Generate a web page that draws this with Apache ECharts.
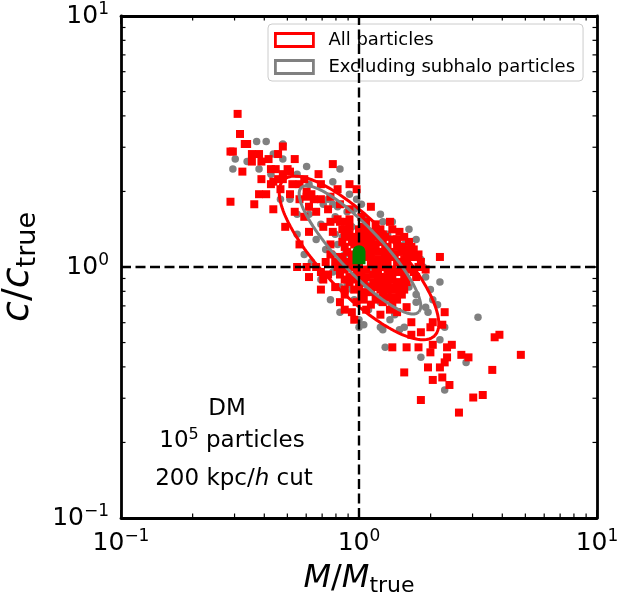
<!DOCTYPE html>
<html><head><meta charset="utf-8">
<script src="https://cdn.jsdelivr.net/npm/echarts@6/dist/echarts.min.js"></script>
<style>html,body{margin:0;padding:0;background:#fff}#c{width:617px;height:599px}</style>
</head><body><div id="c"></div>
<script>
// log10(M/Mtrue), log10(c/ctrue)
const redLog = [
[-0.51,0.61],[-0.50,0.53],[-0.48,0.49],[-0.47,0.49],[-0.54,0.46],[-0.53,0.46],[-0.45,0.45],[-0.42,0.45],[-0.34,0.45],[-0.32,0.48],
[-0.45,0.42],[-0.41,0.42],[-0.38,0.43],[-0.27,0.43],[-0.11,0.41],[-0.49,0.38],[-0.37,0.39],[-0.35,0.39],[-0.30,0.39],[-0.29,0.38],
[-0.17,0.37],[-0.41,0.35],[-0.32,0.35],[-0.34,0.35],[-0.37,0.33],[-0.54,0.26],[-0.42,0.29],[-0.39,0.29],[-0.44,0.25],[-0.36,0.23],
[-0.31,0.16],[-0.25,0.27],[-0.22,0.28],[-0.20,0.29],[-0.09,0.31],[-0.32,0.37],[-0.36,0.34],[-0.04,0.33],[-0.01,0.31],[-0.22,0.30],
[-0.19,0.27],[-0.21,0.24],[-0.29,0.29],[-0.27,0.22],[-0.23,0.20],[-0.18,0.22],[-0.12,0.18],[-0.08,0.18],[-0.04,0.19],[-0.07,0.15],
[-0.15,0.16],[-0.21,0.14],[0.00,0.15],[0.03,0.15],[0.00,0.12],[-0.08,0.25],[-0.04,0.23],[0.05,0.24],[-0.09,0.19],[-0.11,0.14],
[-0.05,0.15],[0.02,0.16],[0.06,0.14],[0.14,0.15],[0.17,0.14],[-0.02,0.12],[-0.07,0.10],[0.05,0.11],[0.09,0.10],[0.12,0.08],
[0.16,0.08],[0.20,0.07],[0.23,0.07],[0.25,0.05],[0.23,0.04],[0.18,0.06],[0.13,0.06],[0.08,0.06],[0.03,0.07],[0.05,0.04],
[-0.05,0.06],[-0.08,0.04],[-0.05,0.02],[0.06,0.02],[0.10,0.02],[0.16,0.02],[0.20,0.02],[-0.09,0.00],[0.03,-0.01],[0.09,0.00],
[0.14,-0.01],[-0.08,-0.03],[-0.01,-0.02],[0.03,-0.04],[0.09,-0.04],[0.16,-0.02],[0.21,-0.01],[-0.04,-0.06],[0.02,-0.06],[0.06,-0.06],
[0.12,-0.06],[0.20,-0.06],[0.03,-0.10],[0.09,-0.09],[0.16,-0.08],[0.17,-0.10],[-0.25,0.09],[-0.12,0.09],[-0.06,0.12],[0.03,0.13],
[-0.26,0.00],[-0.22,0.00],[-0.18,0.00],[-0.21,-0.04],[-0.16,-0.02],[-0.13,-0.03],[-0.07,0.00],[-0.04,-0.04],[0.08,-0.02],[0.10,-0.06],
[-0.15,-0.05],[-0.10,-0.08],[-0.16,-0.09],[-0.08,-0.14],[-0.06,-0.17],[-0.01,-0.14],[0.01,-0.11],[0.05,-0.10],[0.12,-0.12],[0.05,-0.15],
[0.09,-0.19],[-0.03,-0.18],[0.12,-0.09],[0.16,-0.06],[0.18,-0.11],[0.14,-0.12],[0.20,-0.16],[0.16,-0.18],[0.22,-0.22],[0.31,-0.22],
[0.36,-0.18],[0.30,-0.24],[0.26,-0.26],[0.22,-0.27],[0.14,-0.32],[0.20,-0.32],[0.25,-0.32],[0.31,-0.31],[0.37,-0.32],[0.37,-0.36],
[0.30,-0.34],[0.35,-0.23],[0.39,-0.31],[0.43,-0.35],[0.46,-0.36],[0.36,-0.38],[0.34,-0.40],[0.29,-0.40],[0.19,-0.42],[0.31,-0.45],
[0.35,-0.44],[0.38,-0.47],[0.56,-0.41],[0.57,-0.28],[0.59,-0.27],[0.68,-0.35],[0.26,-0.53],[0.48,-0.52],[0.52,-0.51],[0.42,-0.58],
[0.34,0.04],[0.13,0.18],[-0.04,0.16],[-0.02,0.09],[0.01,0.08],[0.07,0.09],[0.11,0.05],[0.15,0.05],[-0.03,0.00],[0.00,0.02],
[0.13,-0.03],[0.18,0.00],[0.07,-0.08],[0.00,-0.08],[-0.06,-0.09],[0.14,-0.15],[0.03,-0.17],[-0.02,-0.21],[-0.06,-0.11],[-0.12,0.05],
[-0.10,0.02],[-0.14,0.02],[0.26,0.02],[0.28,-0.01],[0.24,-0.04],[0.10,0.13],[0.01,0.20],[0.07,0.17],[-0.13,0.23],[-0.16,0.27],
[-0.25,0.33],[-0.23,0.35],[-0.28,0.33],[-0.33,0.31],[-0.16,0.33],[-0.12,0.28],
[0.04,0.09],[0.10,0.10],[-0.03,0.05],[0.07,0.00],[0.12,0.02],[0.19,0.03],[0.01,-0.03],[0.06,-0.03],[0.11,-0.04],[-0.01,0.11],
[0.08,0.13],[0.14,0.11],[0.21,0.10],[0.19,-0.04],[0.13,-0.08],[0.22,0.04],[-0.02,-0.05],[0.04,0.05],[0.10,-0.11],[0.07,-0.13],
[-0.06,0.08],[-0.03,0.10],[0.00,0.09],[0.02,0.11],[0.06,0.12],[0.11,0.12],[0.16,0.11],[0.19,0.12],[-0.07,0.03],[-0.02,0.03],
[0.02,0.04],[0.08,0.03],[0.14,0.04],[0.21,0.05],[0.25,0.00],[-0.06,-0.01],[0.00,-0.01],[0.05,0.01],[0.12,-0.01],[0.18,-0.02],
[0.23,-0.02],[-0.06,-0.05],[0.01,-0.05],[0.08,-0.06],[0.14,-0.05],[0.17,-0.07],[-0.02,-0.09],[0.05,-0.08],[0.11,-0.09],[0.14,-0.09],
[0.19,-0.09],[0.02,-0.13],[0.10,-0.14],[0.16,-0.13],[0.13,-0.17],[-0.04,0.13],[0.09,0.15],[0.03,0.18],[-0.06,0.18],[0.11,0.07],
[0.06,0.07],[0.00,0.05],[0.18,0.08],[0.22,0.08]
];
const grayLog = [
[-0.43,0.50],[-0.52,0.43],[-0.47,0.42],[-0.53,0.39],[-0.32,0.49],[-0.32,0.43],[-0.22,0.40],[-0.08,0.39],[-0.11,0.34],[-0.36,0.45],
[-0.39,0.50],[-0.26,0.37],[-0.04,0.29],[-0.01,0.27],[-0.02,0.23],[-0.15,0.25],[-0.13,0.27],[-0.09,0.24],[-0.26,0.21],[-0.10,0.20],
[-0.05,0.22],[0.03,0.19],[-0.03,0.16],[-0.16,0.17],[-0.26,0.13],[-0.10,0.13],[-0.11,0.25],[0.09,0.21],[0.10,0.18],[0.14,0.18],
[0.21,0.15],[-0.07,0.12],[-0.09,0.09],[-0.11,0.05],[0.26,0.03],[0.27,0.00],[-0.08,-0.08],[-0.03,-0.09],[0.12,-0.09],[0.21,-0.08],
[0.24,-0.11],[-0.05,-0.07],[0.03,-0.07],[-0.08,-0.18],[0.04,-0.17],[0.00,-0.21],[0.09,-0.24],[0.07,-0.12],[0.34,-0.06],[0.28,-0.16],
[0.33,-0.15],[0.36,-0.24],[0.09,-0.14],[0.10,-0.25],[0.02,-0.23],[0.11,-0.32],[0.26,-0.36],[0.18,-0.10],[0.24,-0.14],[0.29,-0.18],
[0.34,-0.29],[0.50,-0.20],[0.45,-0.38],[0.36,-0.49],[0.19,-0.24],[0.28,-0.04],[-0.11,-0.02],[-0.07,-0.01],[-0.37,0.37],[-0.42,0.39],
[-0.29,0.27],[-0.21,0.21],[-0.18,0.11],[-0.14,0.07],[-0.23,0.05],[-0.20,0.02],[-0.12,-0.13],[-0.02,-0.13],[0.15,-0.19],[0.17,-0.25],
[0.13,-0.21],[-0.16,-0.05],[0.05,0.00],[0.15,0.11],[0.19,0.09],[0.01,0.25],[-0.21,0.33],[-0.33,0.27],[0.12,0.13],[0.24,0.11],
[-0.06,0.05],[0.17,0.02],[0.30,-0.09],[0.31,-0.13],[0.01,0.04],[0.00,-0.24]
];
const greenPoint = [1.0, 1.12];
const refM = 1, refC = 1;
const axisMin = 0.1, axisMax = 10;
const tickExponents = ['\u22121', '0', '1'];
const minorTickValues = [0.2,0.3,0.4,0.5,0.6,0.7,0.8,0.9,2,3,4,5,6,7,8,9];
// ellipse parameters in log10 space (centre, semi-axes in dex, angle in degrees)
const redEllipse = {cx: 0.0, cy: 0.036, a: 0.444, b: 0.147, angle: -44};
const grayEllipse = {cx: 0.004, cy: 0.068, a: 0.35, b: 0.09, angle: -45};
const legendNames = ['All particles', 'Excluding subhalo particles'];

const FONT = 'DejaVu Sans';
const toVal = p => [Math.pow(10, p[0]), Math.pow(10, p[1])];
function ellipsePath(e) {
  const pts = [], th = e.angle * Math.PI / 180;
  for (let i = 0; i <= 200; i++) {
    const t = i / 200 * 2 * Math.PI;
    const lx = e.cx + e.a * Math.cos(t) * Math.cos(th) - e.b * Math.sin(t) * Math.sin(th);
    const ly = e.cy + e.a * Math.cos(t) * Math.sin(th) + e.b * Math.sin(t) * Math.cos(th);
    pts.push([Math.pow(10, lx), Math.pow(10, ly)]);
  }
  return pts;
}
const tickRich = {
  b: {fontFamily: FONT, fontSize: 25, lineHeight: 30, color: '#000'},
  s: {fontFamily: FONT, fontSize: 17, lineHeight: 17, verticalAlign: 'top', color: '#000'}
};
const tickFmt = v => '{b|10}{s|' + tickExponents[Math.round(Math.log10(v)) + 1] + '}';
function nameRich(big, small) {
  return {
    i: {fontFamily: FONT, fontSize: big, fontStyle: 'italic', lineHeight: big * 1.2, color: '#000'},
    n: {fontFamily: FONT, fontSize: big, lineHeight: big * 1.2, color: '#000'},
    s: {fontFamily: FONT, fontSize: small, lineHeight: small, verticalAlign: 'bottom', color: '#000'}
  };
}
const lineCommon = {onZero: false, lineStyle: {color: '#000', width: 2.8}};
const tickCommon = {inside: true, length: 8, lineStyle: {color: '#000', width: 1.6}};
function tickLine(x1, y1, x2, y2) {
  return {type: 'line', shape: {x1, y1, x2, y2}, style: {stroke: '#000', lineWidth: 1.2}};
}

const chart = echarts.init(document.getElementById('c'), null, {renderer: 'canvas'});
chart.setOption({
  animation: false,
  backgroundColor: '#fff',
  textStyle: {fontFamily: FONT},
  grid: {left: 121, right: 20, top: 16, bottom: 81, containLabel: false, outerBoundsMode: 'none'},
  xAxis: [
    {type: 'log', logBase: 10, min: axisMin, max: axisMax, position: 'bottom',
     axisLine: lineCommon, axisTick: tickCommon, splitLine: {show: false},
     axisLabel: {margin: 10, formatter: tickFmt, rich: tickRich},
     name: '{i|M}{n|/}{i|M}{s|true}', nameLocation: 'middle', nameGap: 41,
     nameTextStyle: {rich: nameRich(32, 22)}},
    {type: 'log', logBase: 10, min: axisMin, max: axisMax, position: 'top',
     axisLine: lineCommon, axisTick: tickCommon, splitLine: {show: false}, axisLabel: {show: false}}
  ],
  yAxis: [
    {type: 'log', logBase: 10, min: axisMin, max: axisMax, position: 'left',
     axisLine: lineCommon, axisTick: tickCommon, splitLine: {show: false},
     axisLabel: {margin: 12, formatter: tickFmt, rich: tickRich},
     name: '{i|c}{n|/}{i|c}{s|true}', nameLocation: 'middle', nameGap: 68, nameRotate: 90,
     nameTextStyle: {rich: nameRich(38, 27)}},
    {type: 'log', logBase: 10, min: axisMin, max: axisMax, position: 'right',
     axisLine: lineCommon, axisTick: tickCommon, splitLine: {show: false}, axisLabel: {show: false}}
  ],
  legend: {
    left: 268, top: 24, orient: 'vertical', itemWidth: 38, itemHeight: 13, itemGap: 9,
    padding: [7, 8, 5, 6], backgroundColor: 'rgba(255,255,255,0.8)', borderColor: '#cccccc',
    borderWidth: 1, borderRadius: 4, selectedMode: false,
    textStyle: {fontFamily: FONT, fontSize: 18, color: '#000', padding: [0, 0, 0, 10]},
    data: [
      {name: legendNames[0], icon: 'rect', itemStyle: {color: 'rgba(255,255,255,0)', borderColor: '#ff0000', borderWidth: 2.8}},
      {name: legendNames[1], icon: 'rect', itemStyle: {color: 'rgba(255,255,255,0)', borderColor: '#808080', borderWidth: 2.8}}
    ]
  },
  graphic: [
    {type: 'text', z: 100, style: {x: 227, y: 409, text: 'DM', fontFamily: FONT, fontSize: 23, fill: '#000', align: 'center', verticalAlign: 'middle'}},
    {type: 'text', z: 100, style: {x: 232, y: 441, text: '{n|10}{s|5}{n| particles}', align: 'center', verticalAlign: 'middle',
      rich: {n: {fontFamily: FONT, fontSize: 23, lineHeight: 28, fill: '#000'}, s: {fontFamily: FONT, fontSize: 16, lineHeight: 16, verticalAlign: 'top', fill: '#000'}}}},
    {type: 'text', z: 100, style: {x: 234, y: 479, text: '{n|200 kpc/}{i|h}{n| cut}', align: 'center', verticalAlign: 'middle',
      rich: {n: {fontFamily: FONT, fontSize: 23, fill: '#000'}, i: {fontFamily: FONT, fontSize: 23, fontStyle: 'italic', fill: '#000'}}}}
  ],
  series: [
    {name: 'grayPoints', type: 'scatter', symbol: 'circle', symbolSize: 7.5, z: 2, silent: true,
     itemStyle: {color: '#808080', opacity: 1}, data: grayLog.map(toVal)},
    {name: 'redPoints', type: 'scatter', symbol: 'rect', symbolSize: 8, z: 3, silent: true,
     itemStyle: {color: '#ff0000', opacity: 1}, data: redLog.map(toVal)},
    {name: legendNames[0], type: 'line', showSymbol: false, symbol: 'none', z: 8, silent: true,
     lineStyle: {color: '#ff0000', width: 3}, itemStyle: {color: '#ff0000'}, data: ellipsePath(redEllipse)},
    {name: legendNames[1], type: 'line', showSymbol: false, symbol: 'none', z: 8, silent: true,
     lineStyle: {color: '#808080', width: 3}, itemStyle: {color: '#808080'}, data: ellipsePath(grayEllipse)},
    {name: 'vref', type: 'line', symbol: 'none', z: 9, silent: true,
     lineStyle: {color: '#000', width: 2.4, type: [10, 4.5]}, data: [[refM, axisMin], [refM, axisMax]]},
    {name: 'href', type: 'line', symbol: 'none', z: 9, silent: true,
     lineStyle: {color: '#000', width: 2.4, type: [10, 4.5]}, data: [[axisMin, refC], [axisMax, refC]]},
    {name: 'mean', type: 'scatter', z: 10, silent: true,
     symbol: 'path://M0,6.5 A6.5,6.5 0 0 1 13,6.5 L13,19 L0,19 Z', symbolSize: [13, 19],
     itemStyle: {color: '#008000', opacity: 1}, data: [greenPoint]},
    {name: 'minorX', type: 'custom', z: 10, silent: true, clip: false,
     data: minorTickValues.map(v => [v, refC]),
     renderItem: (p, api) => {
       const v = api.value(0), b = api.coord([v, axisMin]), t = api.coord([v, axisMax]);
       return {type: 'group', children: [tickLine(b[0], b[1], b[0], b[1] - 4.5), tickLine(t[0], t[1], t[0], t[1] + 4.5)]};
     }},
    {name: 'minorY', type: 'custom', z: 10, silent: true, clip: false,
     data: minorTickValues.map(v => [refM, v]),
     renderItem: (p, api) => {
       const v = api.value(1), l = api.coord([axisMin, v]), r = api.coord([axisMax, v]);
       return {type: 'group', children: [tickLine(l[0], l[1], l[0] + 4.5, l[1]), tickLine(r[0], r[1], r[0] - 4.5, r[1])]};
     }}
  ]
});
</script></body></html>
